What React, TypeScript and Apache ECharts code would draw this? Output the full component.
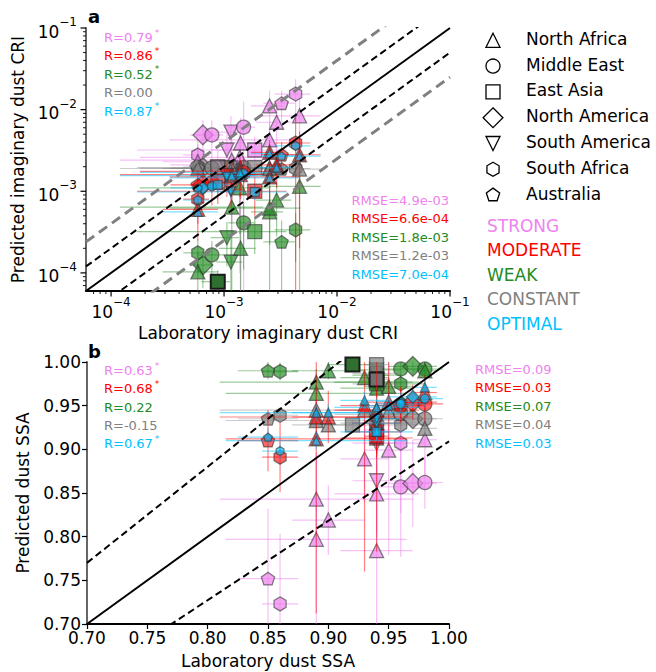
import React, { useEffect, useRef } from "react";
import * as echarts from "echarts";

const FONT = "DejaVu Sans";

const SCHEMES = ["STRONG", "MODERATE", "WEAK", "CONSTANT", "OPTIMAL"];
const SCHEME_COLORS = ["#EE82EE", "#FF0000", "#228B22", "#808080", "#00BFFF"];
const SCHEME_FILLS = [
  "rgba(238,130,238,0.7)",
  "rgba(255,0,0,0.6)",
  "rgba(34,139,34,0.68)",
  "rgba(128,128,128,0.7)",
  "rgba(0,191,255,0.62)",
];
const SCHEME_BOLD_FILLS = ["#c060c0", "#c00000", "#2f6f2f", "#707070", "#0080b0"];
const ERR_COLORS = [
  "rgba(238,130,238,0.5)",
  "rgba(255,0,0,0.5)",
  "rgba(34,139,34,0.45)",
  "rgba(128,128,128,0.4)",
  "rgba(0,191,255,0.5)",
];
const MARKER_SIZE = [14, 14, 14, 14, 9];
const DRAW_ORDER = [0, 2, 3, 1, 4];

const REGIONS = [
  "North Africa",
  "Middle East",
  "East Asia",
  "North America",
  "South America",
  "South Africa",
  "Australia",
];
// symbol per region: triangle, circle, square, diamond, down-triangle, hexagon, pentagon
const SYMBOLS = [
  "triangle",
  "circle",
  "rect",
  "diamond",
  "path://M-1,-1L1,-1L0,1Z",
  "path://M0,-1L0.866,-0.5L0.866,0.5L0,1L-0.866,0.5L-0.866,-0.5Z",
  "path://M0,-1L0.951,-0.309L0.588,0.809L-0.588,0.809L-0.951,-0.309Z",
];
const SYMBOL_WH = [
  [1, 1],
  [1, 1],
  [1, 1],
  [1.414, 1.414],
  [1, 1],
  [0.866, 1],
  [0.951, 0.905],
];

// ---------------- Panel a : imaginary CRI ----------------
const A_XMIN = 6e-5;
const A_XMAX = 0.1;
const A_YMIN = 6e-5;
const A_YMAX = 0.1;
const A_REGION = [5, 6, 0, 0, 0, 0, 3, 1, 4, 1, 4, 0, 2, 5, 6, 0, 2, 0, 0];
const A_LAB = [4.3e-3, 3.23e-3, 2.53e-3, 4.66e-3, 2.92e-3, 2.53e-3, 6.5e-4, 7.8e-4, 1.15e-3, 1.49e-3, 1.06e-3, 1.4e-3, 1.87e-3, 5.86e-4, 5.86e-4, 5.86e-4, 8.8e-4, 1.17e-3, 1.38e-3];
const A_LAB_ERR = [1.5e-3, 1.0e-3, 0.8e-3, 2.5e-3, 1.0e-3, 2.2e-3, 1.5e-4, 2e-4, 3e-4, 4e-4, 3e-4, 5e-4, 1.7e-3, 1.5e-4, 2.5e-4, 3e-4, 2.5e-4, 1.05e-3, 1.2e-3];
const A_STRONG = [1.55e-2, 1.2e-2, 1.11e-2, 8.4e-3, 7.0e-3, 4.25e-3, 4.9e-3, 4.9e-3, 5.3e-3, 6.1e-3, 3.2e-3, 3.9e-3, 3.2e-3, 2.78e-3, 2.1e-3, 2.3e-3, 2.0e-3, 2.4e-3, 2.6e-3];
const A_STRONG_ERR = [8e-3, 5e-3, 6e-3, 6e-3, 4e-3, 3e-3, 2.5e-3, 2.5e-3, 3e-3, 6.5e-3, 2e-3, 4e-3, 1.5e-3, 1.5e-3, 1.2e-3, 1.5e-3, 1.2e-3, 2e-3, 2.5e-3];
const A_MODERATE = [3.9e-3, 2.8e-3, 3.0e-3, 2.8e-3, 2.1e-3, 1.5e-3, 1.2e-3, 1.27e-3, 1.05e-3, 1.7e-3, 1.55e-3, 1.6e-3, 1.0e-3, 8.0e-4, 1.2e-3, 6.0e-4, 1.3e-3, 1.6e-3, 1.75e-3];
const A_MODERATE_ERR = [4e-3, 1.2e-3, 1.2e-3, 2.6e-3, 1.0e-3, 8e-4, 5e-4, 6e-4, 4e-4, 8e-4, 7e-4, 8e-4, 5e-4, 4e-4, 6e-4, 3.5e-4, 6e-4, 8e-4, 9e-4];
const A_WEAK = [3.36e-4, 2.4e-4, 5.6e-4, 1.15e-3, 7.8e-4, 6.2e-4, 1.25e-4, 1.66e-4, 1.36e-4, 4.1e-4, 2.7e-4, 2.0e-4, 3.2e-4, 1.76e-4, null, 1.03e-4, 7.8e-5, 6.4e-4, 1.1e-3];
const A_WEAK_ERR = [2e-4, 2e-4, 6e-4, 1.5e-3, 5e-4, 4e-4, 6e-5, 8e-5, 1.5e-4, 3e-4, 1.5e-4, 2.5e-4, 1.5e-4, 8e-5, null, 8e-5, 3e-5, 6e-4, 8e-4];
const A_CONSTANT = [1.9e-3, 1.88e-3, 1.93e-3, 1.87e-3, 1.98e-3, 1.9e-3, 1.95e-3, 1.93e-3, 1.93e-3, 1.95e-3, 1.93e-3, 1.9e-3, 1.95e-3, 1.98e-3, 1.93e-3, 1.9e-3, 1.95e-3, 1.9e-3, 1.92e-3];
const A_CONSTANT_ERR = [2e-4, 2e-4, 2e-4, 2e-4, 2e-4, 2e-4, 2e-4, 2e-4, 2e-4, 2e-4, 2e-4, 2e-4, 2e-4, 2e-4, 2e-4, 2e-4, 2e-4, 2e-4, 2e-4];
const A_OPTIMAL = [3.6e-3, 2.7e-3, 2.9e-3, 2.7e-3, 1.95e-3, 1.46e-3, 1.1e-3, 1.15e-3, 1.0e-3, 1.66e-3, 1.5e-3, 1.55e-3, 9.8e-4, 7.8e-4, 1.1e-3, 5.6e-4, 1.2e-3, 1.55e-3, 1.7e-3];
const A_OPTIMAL_ERR = [6e-4, 4e-4, 4e-4, 4e-4, 3e-4, 2.5e-4, 2e-4, 2e-4, 2e-4, 3e-4, 2.5e-4, 2.5e-4, 2e-4, 1.5e-4, 2e-4, 1e-4, 2e-4, 2.5e-4, 3e-4];
// highlighted markers: [sample index, scheme index]
const A_BOLD = [[16, 2]];
const A_MAJOR_TICKS = [1e-4, 1e-3, 1e-2, 1e-1];
const A_MINOR_MANTISSA = [2, 3, 4, 5, 6, 7, 8, 9];
const A_MINOR_DECADES = [1e-5, 1e-4, 1e-3, 1e-2];
const A_R_LABELS = ["R=0.79", "R=0.86", "R=0.52", "R=0.00", "R=0.87"];
const A_R_SIG = [true, true, true, false, true];
const A_RMSE = ["RMSE=4.9e-03", "RMSE=6.6e-04", "RMSE=1.8e-03", "RMSE=1.2e-03", "RMSE=7.0e-04"];
const A_GUIDES = [1, 2, 0.5, 4, 0.25];

// ---------------- Panel b : SSA ----------------
const B_MIN = 0.7;
const B_MAX = 1.0;
const B_REGION = [6, 5, 0, 0, 0, 2, 0, 4, 0, 0, 4, 2, 0, 5, 1, 3, 1, 0, 2];
const B_LAB = [0.85, 0.86, 0.89, 0.89, 0.9, 0.92, 0.93, 0.94, 0.94, 0.94, 0.94, 0.94, 0.95, 0.96, 0.96, 0.97, 0.98, 0.98, 0.94];
const B_LAB_ERR = [0.025, 0.015, 0.08, 0.075, 0.03, 0.02, 0.02, 0.02, 0.035, 0.03, 0.02, 0.01, 0.02, 0.02, 0.02, 0.02, 0.015, 0.01, 0.01];
const B_STRONG = [0.752, 0.723, 0.843, 0.797, 0.819, null, 0.889, 0.864, 0.849, 0.784, 0.907, 0.922, 0.899, 0.907, 0.857, 0.861, 0.862, 0.911, null];
const B_STRONG_ERR = [0.08, 0.08, 0.05, 0.1, 0.04, null, 0.05, 0.06, 0.05, 0.1, 0.04, 0.03, 0.12, 0.08, 0.08, 0.05, 0.03, 0.04, null];
const B_MODERATE = [0.91, 0.891, 0.937, 0.912, 0.937, null, 0.95, 0.92, 0.945, 0.913, 0.93, 0.915, 0.954, 0.952, 0.95, 0.954, 0.952, 0.965, null];
const B_MODERATE_ERR = [0.035, 0.04, 0.02, 0.2, 0.03, null, 0.19, 0.03, 0.02, 0.13, 0.02, 0.02, 0.05, 0.02, 0.02, 0.02, 0.02, 0.02, null];
const B_WEAK = [0.99, 0.989, 0.977, 0.964, 0.99, 0.997, 0.982, 0.991, 0.977, 0.97, 0.985, 0.975, 0.972, 0.975, 0.992, 0.995, 0.992, 0.99, 0.985];
const B_WEAK_ERR = [0.01, 0.01, 0.015, 0.01, 0.01, 0.005, 0.01, 0.01, 0.01, 0.01, 0.01, 0.01, 0.01, 0.01, 0.01, 0.01, 0.01, 0.01, 0.01];
const B_CONSTANT = [0.935, 0.939, 0.945, 0.933, 0.928, 0.928, 0.945, 0.987, 0.94, 0.93, 0.975, 0.997, 0.943, 0.928, 0.941, 0.935, 0.935, 0.924, 0.98];
const B_CONSTANT_ERR = [0.005, 0.005, 0.005, 0.005, 0.005, 0.005, 0.005, 0.005, 0.005, 0.005, 0.005, 0.005, 0.005, 0.005, 0.005, 0.005, 0.005, 0.005, 0.005];
const B_OPTIMAL = [0.914, 0.898, 0.942, 0.91, 0.942, null, 0.956, 0.93, 0.948, 0.92, 0.935, 0.92, 0.95, 0.955, 0.952, 0.96, 0.958, 0.971, null];
const B_OPTIMAL_ERR = [0.01, 0.01, 0.01, 0.01, 0.01, null, 0.01, 0.01, 0.01, 0.01, 0.01, 0.01, 0.01, 0.01, 0.01, 0.01, 0.01, 0.01, null];
const B_BOLD = [[5, 2], [18, 3]];
const B_R_LABELS = ["R=0.63", "R=0.68", "R=0.22", "R=-0.15", "R=0.67"];
const B_R_SIG = [true, true, false, false, true];
const B_RMSE = ["RMSE=0.09", "RMSE=0.03", "RMSE=0.07", "RMSE=0.04", "RMSE=0.03"];
const B_GUIDES = [1, 1.1, 1 / 1.1];

type Panel = {
  grid: number;
  region: number[];
  lab: number[];
  labErr: number[];
  preds: (number | null)[][];
  errs: (number | null)[][];
  bold: number[][];
  floor: number;
};

function guideStyle(k: number) {
  if (k === 1) return { color: "#000", width: 2, type: "solid" as any };
  if (k === 4 || k === 0.25) return { color: "#808080", width: 3, type: [10, 6] as any };
  return { color: "#000", width: 2, type: [7, 4] as any };
}

function panelSeries(p: Panel) {
  const out: any[] = [];
  DRAW_ORDER.forEach((s, k) => {
    const pts: { i: number; x: number; y: number; xe: number; ye: number }[] = [];
    p.lab.forEach((x, i) => {
      const y = p.preds[s][i];
      if (y == null) return;
      pts.push({ i, x, y, xe: p.labErr[i], ye: (p.errs[s][i] as number) || 0 });
    });
    const errColor = ERR_COLORS[s];
    const floor = p.floor;
    out.push({
      type: "custom",
      xAxisIndex: p.grid,
      yAxisIndex: p.grid,
      clip: true,
      silent: true,
      z: 2 + 2 * k,
      data: pts.map((q) => [q.x, q.y, q.xe, q.ye]),
      renderItem: (params: any, api: any) => {
        const x = api.value(0);
        const y = api.value(1);
        const xe = api.value(2);
        const ye = api.value(3);
        const a = api.coord([Math.max(x - xe, floor), y]);
        const b = api.coord([x + xe, y]);
        const c = api.coord([x, Math.max(y - ye, floor)]);
        const d = api.coord([x, y + ye]);
        const style = { stroke: errColor, lineWidth: 1.2, fill: "none" };
        return {
          type: "group",
          children: [
            { type: "line", shape: { x1: a[0], y1: a[1], x2: b[0], y2: b[1] }, style },
            { type: "line", shape: { x1: c[0], y1: c[1], x2: d[0], y2: d[1] }, style },
          ],
        };
      },
    });
    const ms = MARKER_SIZE[s];
    out.push({
      type: "scatter",
      name: SCHEMES[s],
      xAxisIndex: p.grid,
      yAxisIndex: p.grid,
      silent: true,
      z: 3 + 2 * k,
      itemStyle: {
        color: SCHEME_FILLS[s],
        borderColor: "rgba(50,50,50,0.6)",
        borderWidth: 1.3,
        opacity: 1,
      },
      data: pts.map((q) => {
        const r = p.region[q.i];
        const bold = p.bold.some(([bi, bs]) => bi === q.i && bs === s);
        return {
          value: [q.x, q.y],
          symbol: SYMBOLS[r],
          symbolSize: [ms * SYMBOL_WH[r][0], ms * SYMBOL_WH[r][1]],
          itemStyle: bold
            ? { color: SCHEME_BOLD_FILLS[s], borderColor: "#1a1a1a", borderWidth: 2 }
            : undefined,
        };
      }),
    });
  });
  return out;
}

function guideSeries(grid: number, guides: number[], x0: number, x1: number) {
  return guides.map((k) => ({
    type: "line",
    xAxisIndex: grid,
    yAxisIndex: grid,
    silent: true,
    symbol: "none",
    clip: true,
    z: 30,
    lineStyle: guideStyle(k),
    data: [
      [x0, x0 * k],
      [x1, x1 * k],
    ],
  }));
}

function logTickSeries() {
  const items: number[][] = [];
  A_MAJOR_TICKS.forEach((v) => {
    items.push([v, v, 0, 5.5]);
    items.push([v, v, 1, 5.5]);
  });
  A_MINOR_DECADES.forEach((d) =>
    A_MINOR_MANTISSA.forEach((m) => {
      const v = m * d;
      if (v > A_XMIN * 1.01 && v < A_XMAX) items.push([v, v, 0, 3]);
      if (v > A_YMIN * 1.01 && v < A_YMAX) items.push([v, v, 1, 3]);
    })
  );
  return {
    type: "custom",
    xAxisIndex: 0,
    yAxisIndex: 0,
    clip: false,
    silent: true,
    z: 40,
    data: items,
    renderItem: (params: any, api: any) => {
      const v = api.value(0);
      const axis = api.value(2);
      const len = api.value(3);
      const w = len > 4 ? 1.2 : 0.9;
      if (axis === 0) {
        const pt = api.coord([v, A_YMIN]);
        return {
          type: "line",
          shape: { x1: pt[0], y1: pt[1], x2: pt[0], y2: pt[1] + len },
          style: { stroke: "#000", lineWidth: w },
        };
      }
      const pt = api.coord([A_XMIN, v]);
      return {
        type: "line",
        shape: { x1: pt[0], y1: pt[1], x2: pt[0] - len, y2: pt[1] },
        style: { stroke: "#000", lineWidth: w },
      };
    },
  };
}

const logLabel = {
  formatter: (v: number) => {
    const e = Math.log10(v);
    const r = Math.round(e);
    if (Math.abs(e - r) > 1e-6) return "";
    return `{b|10}{s|\u2212${-r}}`;
  },
  rich: {
    b: { fontSize: 17, fontFamily: FONT, color: "#000", lineHeight: 24, verticalAlign: "bottom" },
    s: { fontSize: 12, fontFamily: FONT, color: "#000", lineHeight: 12, verticalAlign: "top" },
  },
  showMinLabel: false,
};

const nameStyle = { fontSize: 17, fontFamily: FONT, color: "#000" };

function textEl(x: number, y: number, text: string, color: string, size: number, align: string, weight = "normal") {
  return {
    type: "text",
    x,
    y,
    silent: true,
    z: 50,
    style: {
      text,
      fill: color,
      fontSize: size,
      fontFamily: FONT,
      fontWeight: weight,
      align,
      textAlign: align,
      verticalAlign: "middle",
      textVerticalAlign: "middle",
    },
  };
}

function rLabel(x: number, y: number, text: string, sig: boolean, color: string) {
  return {
    type: "text",
    x,
    y,
    silent: true,
    z: 50,
    style: {
      text: sig ? `{t|${text}}{s|*}` : `{t|${text}}`,
      align: "left",
      textAlign: "left",
      verticalAlign: "middle",
      textVerticalAlign: "middle",
      rich: {
        t: { fontSize: 13, fontFamily: FONT, fill: color, color, lineHeight: 16, verticalAlign: "bottom" },
        s: { fontSize: 9, fontFamily: FONT, fill: color, color, lineHeight: 9, verticalAlign: "top", padding: [0, 0, 0, 2] },
      },
    },
  };
}

function legendSymbol(region: number, cx: number, cy: number, ms: number) {
  const style = { fill: "#fff", stroke: "#000", lineWidth: 1.3 };
  if (region === 1) return { type: "circle", silent: true, shape: { cx, cy, r: ms / 2 }, style };
  if (region === 2)
    return { type: "rect", silent: true, shape: { x: cx - ms / 2, y: cy - ms / 2, width: ms, height: ms }, style };
  let unit: number[][] = [];
  if (region === 0) unit = [[0, -0.5], [0.5, 0.5], [-0.5, 0.5]];
  if (region === 3) unit = [[0, -0.707], [0.707, 0], [0, 0.707], [-0.707, 0]];
  if (region === 4) unit = [[-0.5, -0.5], [0.5, -0.5], [0, 0.5]];
  if (region === 5) unit = [[0, -0.5], [0.433, -0.25], [0.433, 0.25], [0, 0.5], [-0.433, 0.25], [-0.433, -0.25]];
  if (region === 6) unit = [[0, -0.5], [0.476, -0.155], [0.294, 0.405], [-0.294, 0.405], [-0.476, -0.155]];
  return {
    type: "polygon",
    silent: true,
    shape: { points: unit.map(([a, b]) => [cx + a * ms, cy + b * ms]) },
    style,
  };
}

function buildOption() {
  const panelA: Panel = {
    grid: 0,
    region: A_REGION,
    lab: A_LAB,
    labErr: A_LAB_ERR,
    preds: [A_STRONG, A_MODERATE, A_WEAK, A_CONSTANT, A_OPTIMAL],
    errs: [A_STRONG_ERR, A_MODERATE_ERR, A_WEAK_ERR, A_CONSTANT_ERR, A_OPTIMAL_ERR],
    bold: A_BOLD,
    floor: 1e-7,
  };
  const panelB: Panel = {
    grid: 1,
    region: B_REGION,
    lab: B_LAB,
    labErr: B_LAB_ERR,
    preds: [B_STRONG, B_MODERATE, B_WEAK, B_CONSTANT, B_OPTIMAL],
    errs: [B_STRONG_ERR, B_MODERATE_ERR, B_WEAK_ERR, B_CONSTANT_ERR, B_OPTIMAL_ERR],
    bold: B_BOLD,
    floor: 0,
  };

  const graphics: any[] = [];
  graphics.push(textEl(88, 16, "a", "#000", 18, "left", "bold"));
  graphics.push(textEl(88, 351, "b", "#000", 18, "left", "bold"));
  SCHEMES.forEach((s, i) => {
    graphics.push(rLabel(104, 36 + 18.4 * i, A_R_LABELS[i], A_R_SIG[i], SCHEME_COLORS[i]));
    graphics.push(textEl(449, 200 + 18.5 * i, A_RMSE[i], SCHEME_COLORS[i], 13, "right"));
    graphics.push(rLabel(104, 369 + 18.3 * i, B_R_LABELS[i], B_R_SIG[i], SCHEME_COLORS[i]));
    graphics.push(textEl(475, 369 + 18.5 * i, B_RMSE[i], SCHEME_COLORS[i], 13, "left"));
    graphics.push(textEl(487, 225.5 + 24.6 * i, s, SCHEME_COLORS[i], 17, "left"));
  });
  REGIONS.forEach((r, i) => {
    const cy = 38.8 + 25.8 * i;
    graphics.push(legendSymbol(i, 493, cy + 1.5, 14));
    graphics.push(textEl(526, cy, r, "#000", 17, "left"));
  });

  return {
    animation: false,
    backgroundColor: "#fff",
    textStyle: { fontFamily: FONT },
    grid: [
      { left: 86, top: 28, width: 364, height: 263, containLabel: false },
      { left: 87, top: 362, width: 362, height: 262, containLabel: false },
    ],
    xAxis: [
      {
        type: "log",
        logBase: 10,
        gridIndex: 0,
        min: A_XMIN,
        max: A_XMAX,
        axisLine: { show: true, lineStyle: { color: "#000", width: 2 } },
        axisTick: { show: false },
        splitLine: { show: false },
        axisLabel: { ...logLabel, margin: 5 },
        name: "Laboratory imaginary dust CRI",
        nameLocation: "middle",
        nameGap: 33,
        nameTextStyle: nameStyle,
      },
      {
        type: "value",
        gridIndex: 1,
        min: B_MIN,
        max: B_MAX,
        interval: 0.05,
        axisLine: { show: true, lineStyle: { color: "#000", width: 2 } },
        axisTick: { show: true, length: 5, lineStyle: { color: "#000", width: 1.2 } },
        splitLine: { show: false },
        axisLabel: {
          formatter: (v: number) => v.toFixed(2),
          fontSize: 17,
          fontFamily: FONT,
          color: "#000",
          margin: 5,
        },
        name: "Laboratory dust SSA",
        nameLocation: "middle",
        nameGap: 28,
        nameTextStyle: nameStyle,
      },
    ],
    yAxis: [
      {
        type: "log",
        logBase: 10,
        gridIndex: 0,
        min: A_YMIN,
        max: A_YMAX,
        axisLine: { show: true, lineStyle: { color: "#666", width: 2 } },
        axisTick: { show: false },
        splitLine: { show: false },
        axisLabel: { ...logLabel, margin: 9 },
        name: "Predicted imaginary dust CRI",
        nameLocation: "middle",
        nameGap: 54,
        nameTextStyle: nameStyle,
      },
      {
        type: "value",
        gridIndex: 1,
        min: B_MIN,
        max: B_MAX,
        interval: 0.05,
        axisLine: { show: true, lineStyle: { color: "#666", width: 2 } },
        axisTick: { show: true, length: 5, lineStyle: { color: "#000", width: 1.2 } },
        splitLine: { show: false },
        axisLabel: {
          formatter: (v: number) => v.toFixed(2),
          fontSize: 17,
          fontFamily: FONT,
          color: "#000",
          margin: 6,
        },
        name: "Predicted dust SSA",
        nameLocation: "middle",
        nameGap: 56,
        nameTextStyle: nameStyle,
      },
    ],
    series: [
      ...panelSeries(panelA),
      ...panelSeries(panelB),
      ...guideSeries(0, A_GUIDES, A_XMIN, A_XMAX),
      ...guideSeries(1, B_GUIDES, B_MIN, B_MAX),
      logTickSeries(),
    ],
    graphic: { elements: graphics },
  };
}

export default function App() {
  const ref = useRef<HTMLDivElement>(null);
  useEffect(() => {
    if (!ref.current) return;
    const chart = echarts.init(ref.current, null, { renderer: "svg" });
    chart.setOption(buildOption() as any);
    return () => chart.dispose();
  }, []);
  return (
    <div
      ref={ref}
      style={{ position: "absolute", left: 0, top: 0, width: 656, height: 672, background: "#fff" }}
    />
  );
}
